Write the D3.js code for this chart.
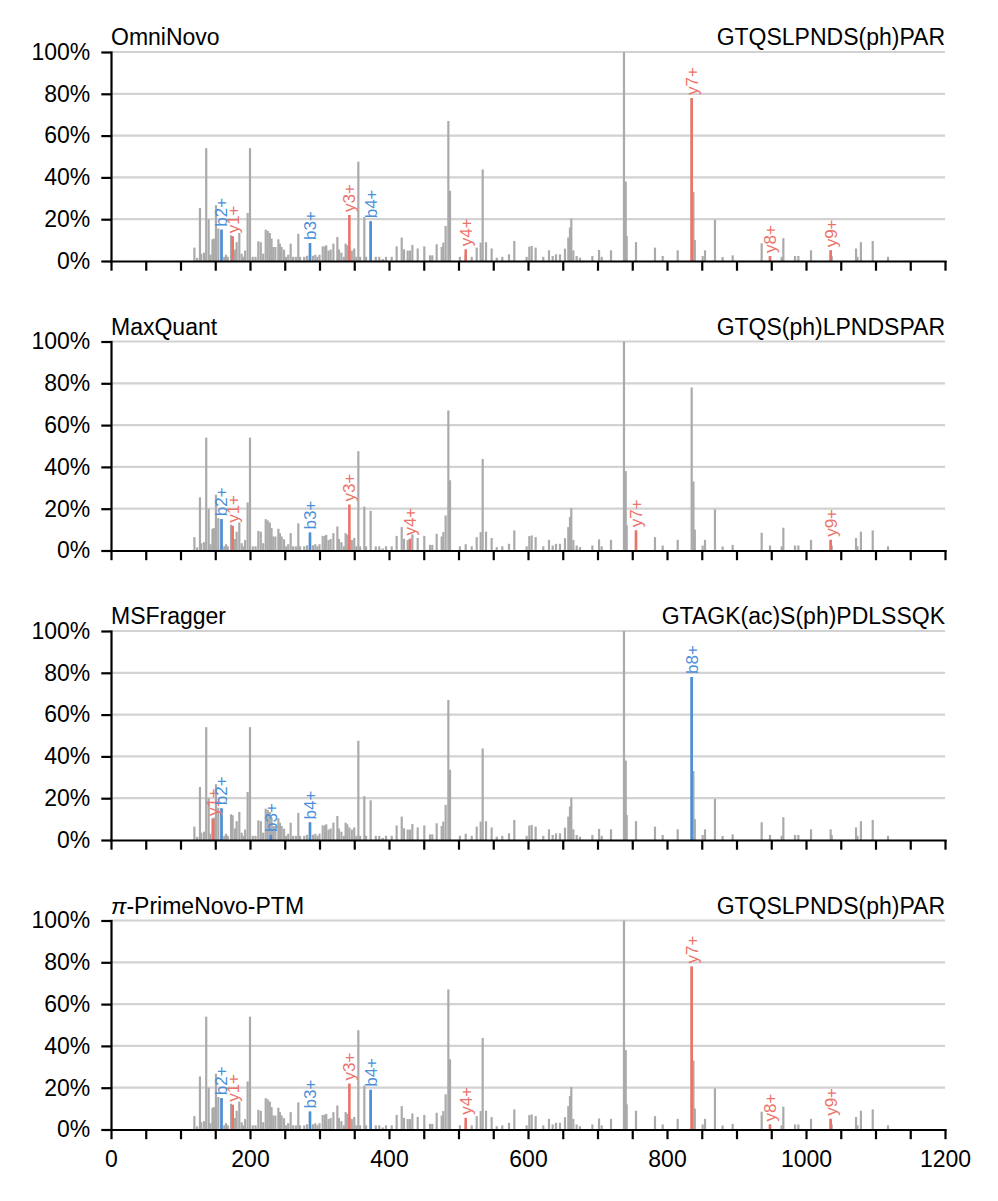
<!DOCTYPE html>
<html>
<head>
<meta charset="utf-8">
<script src="https://cdn.jsdelivr.net/npm/d3@7"></script>
<style>
  body { margin: 0; background: #fff; }
  text { font-family: 'Liberation Sans', Arial, sans-serif; }
</style>
</head>
<body>
<div id="viz"></div>
<script>
// the spectrum (same for every panel): m/z and relative intensity (%)
var peakMz = [120, 124, 128, 130, 134, 137, 140.5, 143, 146, 148, 151, 154.4, 159, 163, 165.5, 168,
  172.7, 175, 178.4, 180.8, 184.6, 188, 190.5, 193, 196.6, 200, 204, 208, 212, 215.5, 219, 222.6,
  225.5, 228.5, 231, 233.5, 236.5, 240.8, 243, 245.5, 249, 252, 255, 258.5, 262, 266, 269.5, 272,
  278, 282, 286.3, 290.5, 294, 297, 300, 304.6, 308, 309.7, 313, 316, 320, 325.7, 328, 331.5, 335,
  337.6, 340, 343, 346.5, 350, 353, 355.9, 358.5, 364.5, 367, 373.6, 381, 386, 391, 395.7, 403.9,
  411, 418.3, 421.6, 426.9, 430.2, 433.6, 441.3, 450.8, 459, 462.3, 468.6, 475.8, 478.2, 481.5,
  485.4, 487.8, 502, 510.4, 519, 526.2, 531.9, 534.8, 539.6, 547.7, 555, 563, 572.7, 580.3, 598,
  601.9, 605.3, 611, 622, 630.2, 635.5, 640.3, 646, 653.2, 658, 660.4, 662.3, 665.2, 670, 674.8,
  692.6, 702.2, 706, 719.4, 738.1, 740.6, 742, 755.4, 782.7, 793.8, 815.4, 835.5, 838, 840, 851.3,
  854.7, 869, 880, 894.5, 936.2, 948.2, 965, 967.4, 984.2, 989, 1007.2, 1035.5, 1037, 1072, 1074,
  1079, 1096, 1118];
var peakInt = [6.4, 1.5, 25.4, 3.5, 4, 54, 20, 3, 10.4, 10.7, 26.7, 15.5, 15, 2, 3, 2,
  12.3, 11.8, 5.5, 9, 13.4, 3.5, 2, 5, 23, 54, 2, 2, 9.4, 9, 3.5, 15,
  14.4, 13.4, 10.7, 6.7, 6.7, 10.4, 8.3, 6.7, 5.4, 2, 3, 8.3, 2, 2, 13, 2,
  2, 2.5, 8.6, 2.5, 3, 2, 3, 7, 7, 7.5, 5, 5.5, 8.3, 11.5, 5.5, 4, 2,
  8.3, 7.5, 6, 5, 6, 2, 47.5, 2, 21, 2, 19, 2, 2, 1, 2, 2,
  7, 11.2, 5.6, 5, 5, 7.7, 6, 7, 2.7, 2.7, 8, 6.7, 8.8, 16.8,
  67, 33.6, 2, 3, 2, 6.4, 8.8, 43.8, 9, 6, 1.6, 2, 3.2, 9.6, 2,
  6.9, 7.2, 6.4, 2, 5.1, 2.4, 3.2, 3.2, 5.9, 11.2, 16, 20.3, 5.1, 2.4, 1.6,
  2.4, 5.3, 2, 5.1, 100, 38, 12, 9, 6.4, 2.4, 5.1, 78, 33, 10, 2.4,
  5.1, 19.7, 1.9, 2.7, 8.5, 2.4, 2, 10.9, 2.4, 2.4, 5.1, 5.1, 2.4, 6, 2,
  9, 9.6, 2];

// panels
var panelNames = ['OmniNovo', 'MaxQuant', 'MSFragger', 'PrimeNovo'];
var panelSeqs = ['GTQSLPNDS(ph)PAR', 'GTQS(ph)LPNDSPAR', 'GTAGK(ac)S(ph)PDLSSQK', 'GTQSLPNDS(ph)PAR'];

// annotated fragment ions for each panel
var ionLabels = [
  ['b2+', 'y1+', 'b3+', 'y3+', 'b4+', 'y4+', 'y7+', 'y8+', 'y9+'],
  ['b2+', 'y1+', 'b3+', 'y3+', 'y4+', 'y7+', 'y9+'],
  ['y1+', 'b2+', 'b3+', 'b4+', 'b8+'],
  ['b2+', 'y1+', 'b3+', 'y3+', 'b4+', 'y4+', 'y7+', 'y8+', 'y9+']
];
var ionMz = [
  [159, 175, 286.3, 343, 373.6, 510.4, 835.5, 948.2, 1035.5],
  [159, 175, 286.3, 343, 430.2, 755.4, 1035.5],
  [147, 159, 230, 286.3, 835.5],
  [159, 175, 286.3, 343, 373.6, 510.4, 835.5, 948.2, 1035.5]
];
var ionInt = [
  [15, 11.8, 8.6, 22, 19, 5.6, 78, 2.4, 5.1],
  [15, 11.8, 8.6, 22, 5.7, 9.7, 5.1],
  [10, 15.2, 2.4, 8.4, 78],
  [15, 11.8, 8.6, 22, 19, 5.6, 78, 2.4, 5.1]
];

var yTicks = [0, 20, 40, 60, 80, 100];
var xTicks = d3.range(0, 1201, 50);

var blue = '#4a90d9';
var red = '#ec7369';
var grey = '#aaaaaa';

var width = 998, height = 1201;
var left = 111, right = 945;
var panelHeight = 209;
var firstBottom = 261;
var panelStep = 289.5;
var fontSize = '23px';

var svg = d3.select('#viz').append('svg')
  .attr('width', width)
  .attr('height', height);

svg.append('rect').attr('width', width).attr('height', height).attr('fill', '#fff');

var x = d3.scaleLinear().domain([0, 1200]).range([left, right]);

panelNames.forEach(function(name, p) {
  var bottom = firstBottom + p * panelStep;
  var y = d3.scaleLinear().domain([0, 100]).range([bottom, bottom - panelHeight]);
  var g = svg.append('g').attr('class', 'panel');

  // grid lines
  g.selectAll('.grid')
    .data(yTicks.slice(1))
    .enter().append('line')
    .attr('class', 'grid')
    .attr('x1', x(0)).attr('x2', x(1200))
    .attr('y1', function(d) { return y(d); })
    .attr('y2', function(d) { return y(d); })
    .attr('stroke', '#d2d2d2')
    .attr('stroke-width', 2.2);

  // grey peaks
  g.selectAll('.peak')
    .data(peakMz)
    .enter().append('line')
    .attr('class', 'peak')
    .attr('x1', function(d) { return x(d); })
    .attr('x2', function(d) { return x(d); })
    .attr('y1', y(0))
    .attr('y2', function(d, i) { return y(peakInt[i]); })
    .attr('stroke', grey)
    .attr('stroke-width', 2.2);

  // annotated ions
  var ions = ionLabels[p].map(function(l, i) {
    return { label: l, mz: ionMz[p][i], val: ionInt[p][i], color: l[0] === 'b' ? blue : red };
  });

  g.selectAll('.ion')
    .data(ions)
    .enter().append('line')
    .attr('class', 'ion')
    .attr('x1', function(d) { return x(d.mz); })
    .attr('x2', function(d) { return x(d.mz); })
    .attr('y1', y(0))
    .attr('y2', function(d) { return y(d.val); })
    .attr('stroke', function(d) { return d.color; })
    .attr('stroke-width', 2.6);

  g.selectAll('.ionLabel')
    .data(ions)
    .enter().append('text')
    .attr('class', 'ionLabel')
    .attr('transform', function(d) { return 'translate(' + x(d.mz) + ',' + (y(d.val) - 3) + ') rotate(-90)'; })
    .attr('dy', '0.35em')
    .attr('text-anchor', 'start')
    .attr('font-size', '17px')
    .attr('fill', function(d) { return d.color; })
    .text(function(d) { return d.label; });

  // axes
  g.append('g')
    .attr('class', 'axis yAxis')
    .attr('transform', 'translate(' + left + ',0)')
    .call(d3.axisLeft(y).tickValues(yTicks).tickFormat(function(d) { return d + '%'; })
      .tickSize(9.7).tickPadding(11).tickSizeOuter(0));

  var last = p === panelNames.length - 1;
  g.append('g')
    .attr('class', 'axis xAxis')
    .attr('transform', 'translate(0,' + bottom + ')')
    .call(d3.axisBottom(x).tickValues(xTicks)
      .tickFormat(function(d) { return (last && d % 200 === 0) ? d : ''; })
      .tickSize(9.7).tickPadding(11).tickSizeOuter(0));

  g.selectAll('.axis path, .axis line')
    .attr('stroke', '#000')
    .attr('stroke-width', 2.2);
  g.selectAll('.axis path').attr('stroke-linecap', 'square');
  g.selectAll('.axis text')
    .attr('font-size', fontSize)
    .attr('fill', '#000')
    .attr('font-family', "'Liberation Sans', Arial, sans-serif");

  // titles
  var top = bottom - panelHeight;
  var title = g.append('text')
    .attr('x', left)
    .attr('y', top - 7)
    .attr('font-size', fontSize);
  if (name === 'PrimeNovo') {
    title.append('tspan').attr('font-style', 'italic').text('π');
    title.append('tspan').text('-PrimeNovo-PTM');
  } else {
    title.text(name);
  }

  g.append('text')
    .attr('x', right)
    .attr('y', top - 7)
    .attr('text-anchor', 'end')
    .attr('font-size', fontSize)
    .text(panelSeqs[p]);
});
</script>
</body>
</html>
